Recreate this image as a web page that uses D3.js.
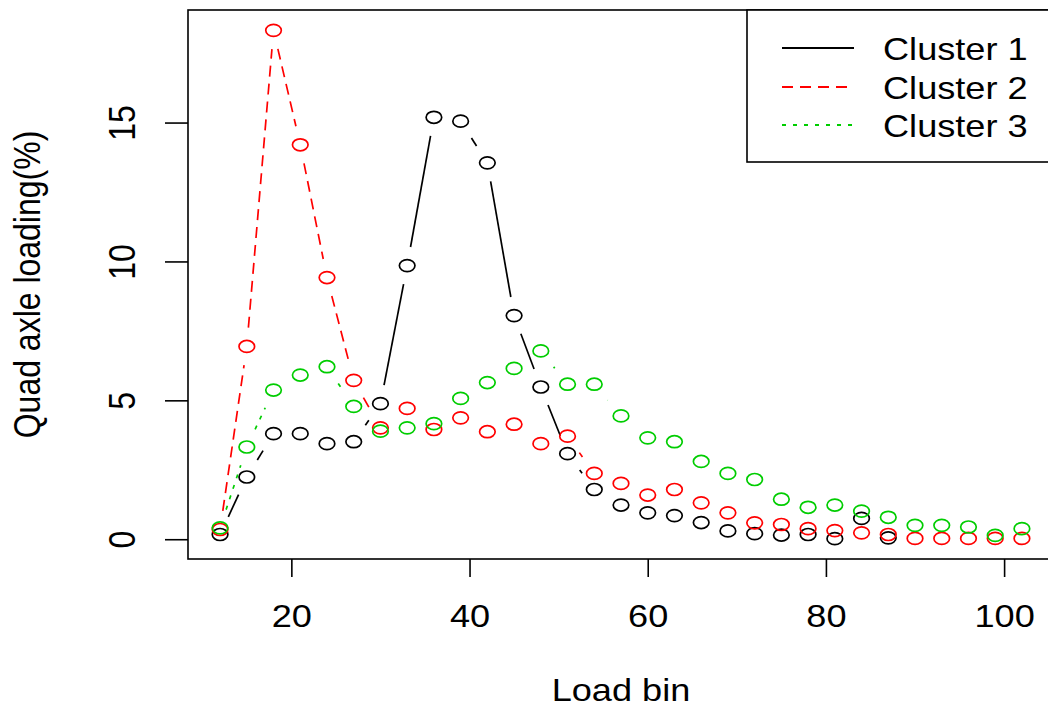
<!DOCTYPE html>
<html>
<head>
<meta charset="utf-8">
<script src="https://cdn.jsdelivr.net/npm/d3@7"></script>
<style>
  html, body { margin: 0; padding: 0; background: #fff; }
  svg { display: block; }
  text { font-family: "Liberation Sans", Arial, sans-serif; fill: #000; }
</style>
</head>
<body>
<svg id="chart" width="1048" height="710"></svg>
<script>
// ---- data ----
const loadBins = [12,15,18,21,24,27,30,33,36,39,42,45,48,51,54,57,60,63,66,69,72,75,78,81,84,87,90,93,96,99,102];
const cluster1 = [0.17,2.24,3.8,3.8,3.44,3.51,4.88,9.85,15.19,15.05,13.55,8.05,5.48,3.08,1.79,1.23,0.95,0.85,0.6,0.3,0.2,0.15,0.17,0.02,0.75,0.05];
const cluster2 = [0.35,6.94,18.32,14.2,9.42,5.72,4.01,4.71,3.95,4.37,3.87,4.14,3.44,3.71,2.37,2.01,1.59,1.79,1.31,0.95,0.59,0.53,0.38,0.31,0.23,0.17,0.03,0.03,0.03,0.03,0.03];
const cluster3 = [0.41,3.32,5.37,5.91,6.21,4.78,3.89,4.01,4.16,5.07,5.64,6.15,6.78,5.58,5.58,4.44,3.65,3.51,2.8,2.37,2.15,1.44,1.15,1.23,1.01,0.79,0.5,0.5,0.44,0.14,0.38];
const seriesNames = ["Cluster 1","Cluster 2","Cluster 3"];
const xTicks = [20,40,60,80,100];
const yTicks = [0,5,10,15];
const xTitle = "Load bin";
const yTitle = "Quad axle loading(%)";

// ---- styles ----
const colors = ["#000000","#FF0000","#00CD00"];
const dashes = [null,"11,7","4,7"];
const SX = 1.3;      // horizontal stretch of the original picture
const TX = 1.13;     // text horizontal stretch
const GAP = 18.8;    // type="b" gap around points (unstretched px)

const svg = d3.select("#chart");
const L = 188, R = 1054, T = 10, B = 559;

const allVals = cluster1.concat(cluster2, cluster3);
const ymin = d3.min(allVals), ymax = d3.max(allVals);
const yr = ymax - ymin;
const x = d3.scaleLinear().domain([8.4, 105.6]).range([L, R]);
const y = d3.scaleLinear().domain([ymin - 0.04*yr, ymax + 0.04*yr]).range([B, T]);

// series lines (type = "b") and points
const series = [cluster1, cluster2, cluster3];
series.forEach((vals, si) => {
  const pts = vals.map((v, i) => [x(loadBins[i]), y(v)]);
  const g = svg.append("g");
  for (let i = 0; i < pts.length - 1; i++) {
    const [x1, y1] = pts[i], [x2, y2] = pts[i+1];
    const ux = (x2 - x1) / SX, uy = y2 - y1;
    const len = Math.hypot(ux, uy);
    if (len <= 2*GAP) continue;
    const f = GAP / len;
    const line = g.append("line")
      .attr("x1", x1 + (x2-x1)*f).attr("y1", y1 + (y2-y1)*f)
      .attr("x2", x2 - (x2-x1)*f).attr("y2", y2 - (y2-y1)*f)
      .attr("stroke", colors[si]).attr("stroke-width", 1.7);
    if (dashes[si]) line.attr("stroke-dasharray", dashes[si]);
  }
  g.selectAll("ellipse").data(vals).enter().append("ellipse")
    .attr("cx", (d, i) => x(loadBins[i]))
    .attr("cy", d => y(d))
    .attr("rx", 7.8).attr("ry", 6)
    .attr("fill", "none")
    .attr("stroke", colors[si]).attr("stroke-width", 1.7);
});

// box
svg.append("rect").attr("x", L).attr("y", T).attr("width", R - L).attr("height", B - T)
  .attr("fill", "none").attr("stroke", "#000").attr("stroke-width", 1.6);

// x axis
const xAxis = svg.append("g").attr("transform", `translate(0,${B})`)
  .call(d3.axisBottom(x).tickValues(xTicks).tickSize(18).tickSizeOuter(0).tickFormat(d3.format("d")));
xAxis.select(".domain").remove();
xAxis.selectAll(".tick line").attr("stroke", "#000").attr("stroke-width", 1.6);
xAxis.selectAll(".tick text")
  .attr("y", 0).attr("dy", null)
  .attr("transform", `translate(0,68) scale(${TX},1)`)
  .style("font-size", "32px").style("font-family", "'Liberation Sans', Arial, sans-serif")
  .attr("fill", "#000").attr("text-anchor", "middle");

// y axis
const yAxis = svg.append("g").attr("transform", `translate(${L},0)`)
  .call(d3.axisLeft(y).tickValues(yTicks).tickSize(23).tickSizeOuter(0).tickFormat(d3.format("d")));
yAxis.select(".domain").remove();
yAxis.selectAll(".tick line").attr("stroke", "#000").attr("stroke-width", 1.6);
yAxis.selectAll(".tick text")
  .attr("x", 0).attr("dy", null)
  .attr("transform", `translate(-53,0) scale(${TX},1) rotate(-90)`)
  .style("font-size", "32px").style("font-family", "'Liberation Sans', Arial, sans-serif")
  .attr("fill", "#000").attr("text-anchor", "middle");

// titles
svg.append("text")
  .attr("transform", `translate(${(L+R)/2},701) scale(${TX},1)`)
  .attr("text-anchor", "middle").style("font-size", "32px")
  .text(xTitle);
svg.append("text")
  .attr("transform", `translate(40,${(T+B)/2}) scale(${TX},1) rotate(-90)`)
  .attr("text-anchor", "middle").style("font-size", "32px")
  .text(yTitle);

// legend
const lg = svg.append("g");
lg.append("rect").attr("x", 747).attr("y", T).attr("width", R - 747).attr("height", 162 - T)
  .attr("fill", "#fff").attr("stroke", "#000").attr("stroke-width", 1.6);
const rowsY = [48, 87, 125];
seriesNames.forEach((name, i) => {
  const ln = lg.append("line").attr("x1", 782).attr("x2", 854)
    .attr("y1", rowsY[i]).attr("y2", rowsY[i])
    .attr("stroke", colors[i]).attr("stroke-width", 1.8);
  if (dashes[i]) ln.attr("stroke-dasharray", dashes[i]);
  lg.append("text")
    .attr("transform", `translate(883,${rowsY[i] + 12}) scale(${TX},1)`)
    .style("font-size", "32px")
    .text(name);
});
</script>
</body>
</html>
